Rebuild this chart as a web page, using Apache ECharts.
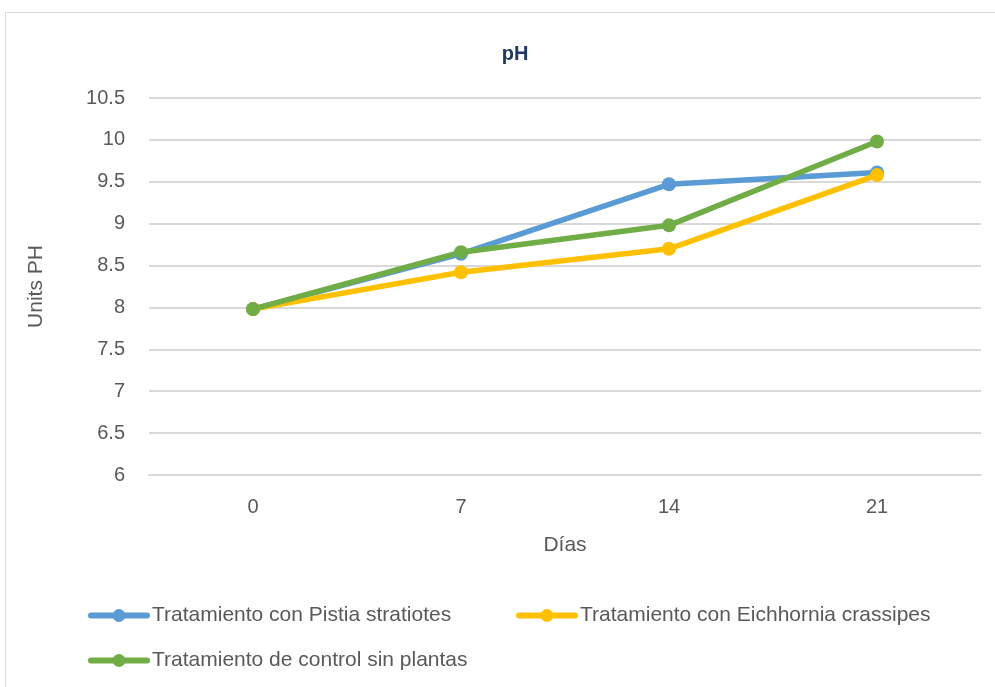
<!DOCTYPE html>
<html lang="es">
<head>
    <meta charset="UTF-8">
    <title>pH</title>
    <script src="https://cdn.jsdelivr.net/npm/echarts@6.0.0/dist/echarts.min.js"></script>
    <style>
        html, body { margin: 0; padding: 0; background: #fff; }
        #main { width: 995px; height: 687px; }
    </style>
</head>
<body>
    <div id="main"></div>
    <script>
        var dias = ['0', '7', '14', '21'];
        var pistia = [7.98, 8.64, 9.47, 9.61];
        var eichhornia = [7.98, 8.42, 8.70, 9.58];
        var control = [7.98, 8.66, 8.98, 9.98];
        var nombres = [
            'Tratamiento con Pistia stratiotes',
            'Tratamiento con Eichhornia crassipes',
            'Tratamiento de control sin plantas'
        ];
        var colores = ['#5b9bd5', '#ffc000', '#70ad47'];
        var fuente = 'Liberation Sans';
        var gris = '#595959';

        var myChart = echarts.init(document.getElementById('main'));

        function serie(nombre, datos, color) {
            return {
                name: nombre,
                type: 'line',
                data: datos,
                symbol: 'circle',
                symbolSize: 14,
                lineStyle: { width: 5.5, color: color, cap: 'round' },
                itemStyle: { color: color },
                animation: false
            };
        }

        // una leyenda por elemento para dejar cada icono donde está en el original
        function leyenda(nombre, x, y) {
            return {
                data: [nombre],
                left: x,
                top: y,
                padding: 0,
                itemWidth: 56,
                itemHeight: 16,
                lineStyle: { width: 6, cap: 'round' },
                textStyle: { fontFamily: fuente, fontSize: 21, color: gris }
            };
        }

        var option = {
            color: colores,
            title: {
                text: 'pH',
                left: 510,
                textAlign: 'center',
                top: 39,
                textStyle: { fontFamily: fuente, fontSize: 20, fontWeight: 'bold', color: '#1f3864' }
            },
            grid: { left: 149, right: 14, top: 98, bottom: 212 },
            legend: [
                leyenda(nombres[0], 88, 605),
                leyenda(nombres[1], 516, 605),
                leyenda(nombres[2], 88, 650)
            ],
            xAxis: {
                type: 'category',
                data: dias,
                boundaryGap: true,
                name: 'Días',
                nameLocation: 'middle',
                nameGap: 60,
                nameTextStyle: { fontFamily: fuente, fontSize: 21, color: gris },
                axisLine: { show: true, lineStyle: { color: '#d9d9d9', width: 2 } },
                axisTick: { show: false },
                axisLabel: { fontFamily: fuente, fontSize: 20, color: gris, margin: 22 }
            },
            yAxis: {
                type: 'value',
                min: 6,
                max: 10.5,
                interval: 0.5,
                name: 'Units PH',
                nameLocation: 'middle',
                nameGap: 102,
                nameTextStyle: { fontFamily: fuente, fontSize: 21, color: gris },
                axisLine: { show: false },
                axisTick: { show: false },
                axisLabel: { fontFamily: fuente, fontSize: 20, color: gris, margin: 24 },
                splitLine: { lineStyle: { color: '#d9d9d9', width: 2 } }
            },
            series: [
                serie(nombres[0], pistia, colores[0]),
                serie(nombres[1], eichhornia, colores[1]),
                serie(nombres[2], control, colores[2])
            ],
            graphic: [{
                type: 'rect',
                shape: { x: 5.5, y: 12.5, width: 1000, height: 700 },
                style: { fill: 'none', stroke: '#d9d9d9', lineWidth: 1 },
                silent: true
            }]
        };
        myChart.setOption(option);
    </script>
</body>
</html>
